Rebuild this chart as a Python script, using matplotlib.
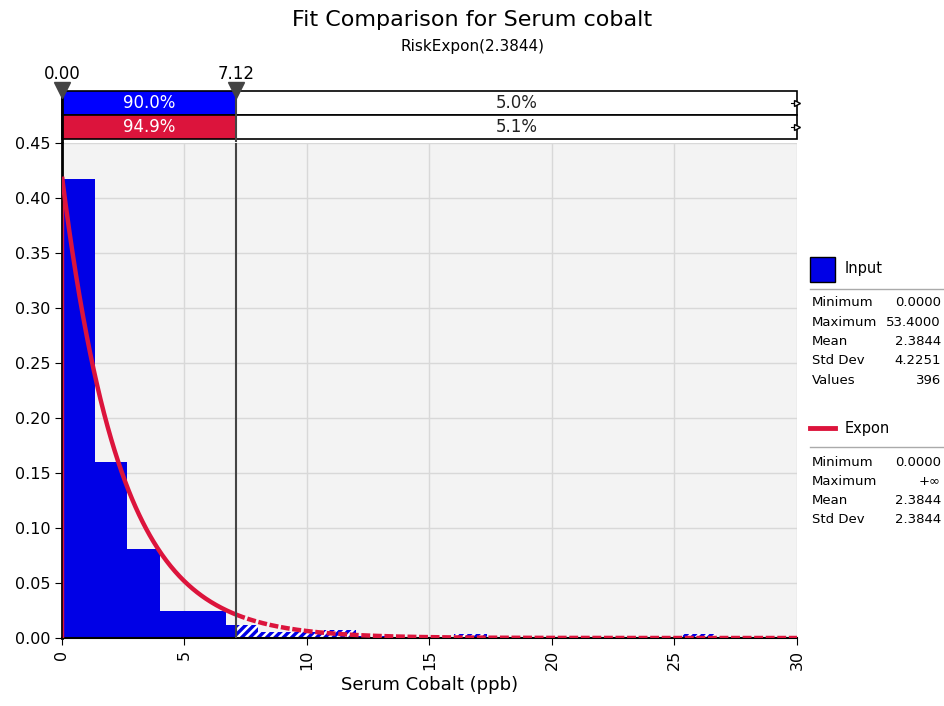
import numpy as np
import matplotlib.pyplot as plt
from matplotlib.patches import Rectangle

plt.rcParams['font.family'] = ['DejaVu Sans']

# histogram: 40 bins of width 1.335 from 0 to 53.4 (density)
bin_edges = np.linspace(0, 53.4, 41)
bin_heights = [0.417, 0.160, 0.081, 0.025, 0.025, 0.012, 0.0057, 0.0057, 0.0076, 0.0019,
               0, 0, 0.0038, 0, 0, 0, 0, 0, 0, 0.0038,
               0, 0, 0, 0, 0, 0, 0, 0, 0, 0,
               0, 0, 0, 0, 0, 0, 0, 0, 0, 0.0019]
expon_mean = 2.3844
left_mark, right_mark = 0.0, 7.12
input_pcts = ['90.0%', '5.0%']
fit_pcts = ['94.9%', '5.1%']
input_stats = [('Minimum', '0.0000'), ('Maximum', '53.4000'), ('Mean', '2.3844'),
               ('Std Dev', '4.2251'), ('Values', '396')]
fit_stats = [('Minimum', '0.0000'), ('Maximum', '+\u221e'), ('Mean', '2.3844'),
             ('Std Dev', '2.3844')]

BLUE = '#0000e6'
RED = '#dc143c'

fig = plt.figure(figsize=(9.45, 7.06), dpi=100)
ax = fig.add_axes([62/945, 1-638/706, 735/945, 495/706])
ax.set_facecolor('#f3f3f3')
ax.set_xlim(0, 30)
ax.set_ylim(0, 0.45)

plt.rcParams['hatch.linewidth'] = 1.8
for i, h in enumerate(bin_heights):
    a, b = bin_edges[i], bin_edges[i+1]
    if h == 0 or a >= 30:
        continue
    if b <= right_mark:
        ax.add_patch(Rectangle((a, 0), b-a, h, facecolor=BLUE, lw=0, zorder=2))
    elif a < right_mark:
        ax.add_patch(Rectangle((a, 0), right_mark-a, h, facecolor=BLUE, lw=0, zorder=2))
        ax.add_patch(Rectangle((right_mark, 0), b-right_mark, h, facecolor=BLUE,
                               edgecolor='white', hatch='////', lw=0, zorder=2))
    else:
        ax.add_patch(Rectangle((a, 0), b-a, h, facecolor=BLUE,
                               edgecolor='white', hatch='////', lw=0, zorder=2))

# fitted exponential density
x1 = np.linspace(0, right_mark, 200)
x2 = np.linspace(right_mark, 30, 400)
pdf = lambda x: np.exp(-x/expon_mean)/expon_mean
ax.plot(x1, pdf(x1), color=RED, lw=3.2, zorder=4, solid_capstyle='butt')
ax.plot(x2, pdf(x2), color=RED, lw=3.2, zorder=4, linestyle=(0, (2, 0.6)))
ax.plot([0.03, 0.03], [0, pdf(0)], color=RED, lw=1, zorder=4)

ax.axvline(right_mark, color='#444444', lw=1.5, zorder=5)
ax.set_xticks(np.arange(0, 31, 5))
ax.set_yticks(np.arange(0, 0.451, 0.05))
ax.set_yticklabels([f'{v:.2f}' for v in np.arange(0, 0.451, 0.05)])
ax.grid(True, color='#d8d8d8', lw=1)
ax.set_axisbelow(True)
for s in ['top', 'right']:
    ax.spines[s].set_visible(False)
ax.spines['left'].set_linewidth(2)
ax.spines['bottom'].set_linewidth(1.5)
ax.tick_params(axis='x', labelrotation=90, labelsize=11.5, length=5)
ax.tick_params(axis='y', labelsize=11.5, length=5)
ax.set_xlabel('Serum Cobalt (ppb)', fontsize=13)

# delimiter band
band = fig.add_axes([62/945, 1-139/706, 735/945, 48/706])
band.set_xlim(0, 30)
band.set_ylim(0, 2)
band.axis('off')
rows = [(1, '#0000ff', input_pcts), (0, RED, fit_pcts)]
for y, col, pcts in rows:
    band.add_patch(Rectangle((left_mark, y), right_mark-left_mark, 1, facecolor=col,
                             edgecolor='black', lw=1.2, clip_on=False))
    band.add_patch(Rectangle((right_mark, y), 30-right_mark, 1, facecolor='white',
                             edgecolor='black', lw=1.2, clip_on=False))
    band.text((left_mark+right_mark)/2, y+0.5, pcts[0], color='white', fontsize=12,
              ha='center', va='center')
    band.text((right_mark+30)/2, y+0.5, pcts[1], color='#222222', fontsize=12,
              ha='center', va='center')
    band.plot([29.75, 30], [y+0.5, y+0.5], color='black', lw=0.8, clip_on=False)
    band.plot([30], [y+0.5], marker='>', ms=5, mfc='white', mec='black', clip_on=False)
band.plot([0, 0], [-0.1, 2], color='black', lw=2, clip_on=False)
band.plot([right_mark, right_mark], [-0.1, 2], color='#444444', lw=1.5, clip_on=False)
for xm in [left_mark, right_mark]:
    band.plot([xm], [2.05], marker='v', ms=11, color='#444444', clip_on=False)
    band.text(xm, 2.35, f'{xm:.2f}', fontsize=12, ha='center', va='bottom')

fig.text(0.5, 1-20/706, 'Fit Comparison for Serum cobalt', fontsize=16,
         ha='center', va='center')
fig.text(0.5, 1-47/706, 'RiskExpon(2.3844)', fontsize=11, ha='center', va='center')

# legend
fig.patches.append(Rectangle((810/945, 1-282/706), 25/945, 25/706, facecolor=BLUE,
                             edgecolor='black', lw=1, transform=fig.transFigure))
fig.text(845/945, 1-269/706, 'Input', fontsize=10.5, va='center')
fig.lines.append(plt.Line2D([810/945, 943/945], [1-289/706]*2, color='#aaaaaa', lw=1,
                            transform=fig.transFigure))
for k, (lab, val) in enumerate(input_stats):
    yy = 1-(303+19.3*k)/706
    fig.text(812/945, yy, lab, fontsize=9.5, va='center')
    fig.text(941/945, yy, val, fontsize=9.5, va='center', ha='right')

fig.lines.append(plt.Line2D([810/945, 835/945], [1-428/706]*2, color=RED, lw=3.5,
                            transform=fig.transFigure))
fig.text(845/945, 1-428/706, 'Expon', fontsize=10.5, va='center')
fig.lines.append(plt.Line2D([810/945, 943/945], [1-447/706]*2, color='#aaaaaa', lw=1,
                            transform=fig.transFigure))
for k, (lab, val) in enumerate(fit_stats):
    yy = 1-(462+19.3*k)/706
    fig.text(812/945, yy, lab, fontsize=9.5, va='center')
    fig.text(941/945, yy, val, fontsize=9.5, va='center', ha='right')

fig.savefig('out.png', dpi=100)
